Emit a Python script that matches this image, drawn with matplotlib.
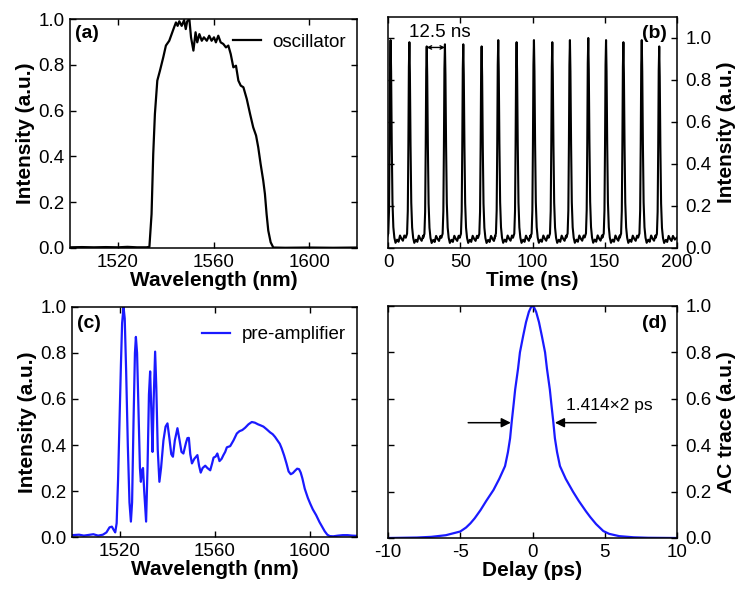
import numpy as np
import matplotlib
matplotlib.use("Agg")
import matplotlib.pyplot as plt
from matplotlib.ticker import FormatStrFormatter

plt.rcParams['font.family'] = ['Liberation Sans', 'DejaVu Sans']
plt.rcParams['axes.unicode_minus'] = False

# (a) oscillator spectrum
osc_wl = [1500, 1505, 1510, 1515, 1520, 1524, 1528, 1532, 1533.2, 1534.1, 1534.8, 1535.5,
          1536.5, 1537.6, 1539.0, 1540.1, 1541.5, 1542.5, 1543.5, 1544.3, 1545.0, 1545.7,
          1546.7, 1547.7, 1548.4, 1549.0, 1549.9, 1550.6, 1551.6, 1552.5, 1553.2, 1554.1,
          1555.1, 1556.0, 1557.2, 1558.2, 1559.2, 1560.2, 1561.0, 1562.0, 1563.0, 1564.1,
          1565.2, 1566.2, 1567.2, 1568.3, 1569.4, 1570.4, 1571.4, 1572.5, 1573.9, 1575.3,
          1576.6, 1577.8, 1578.7, 1579.7, 1580.8, 1581.5, 1582.2, 1582.9, 1583.9, 1585.0,
          1590, 1600, 1610, 1620]
osc_int = [0.003, 0.004, 0.003, 0.004, 0.003, 0.005, 0.003, 0.003, 0.005, 0.148, 0.41, 0.585,
           0.731, 0.774, 0.833, 0.884, 0.905, 0.934, 0.963, 0.985, 0.97, 0.99,
           0.97, 0.995, 0.956, 0.99, 1.0, 0.92, 0.862, 0.942, 0.898, 0.934,
           0.905, 0.92, 0.905, 0.927, 0.905, 0.92, 0.898, 0.927, 0.898, 0.891,
           0.876, 0.884, 0.847, 0.789, 0.796, 0.731, 0.709, 0.702, 0.651, 0.585,
           0.527, 0.491, 0.44, 0.367, 0.294, 0.236, 0.148, 0.076, 0.025, 0.002,
           0.001, 0.002, 0.001, 0.002]

# (b) pulse train
peak_t = [1.8, 14.8, 26.8, 39.4, 52.1, 64.8, 76.3, 89.0, 101.0, 113.7, 125.9, 138.6,
          150.9, 162.9, 175.6, 187.7]
peak_h = [0.99, 0.98, 0.96, 0.97, 0.97, 0.96, 0.99, 0.98, 0.99, 0.98, 0.99, 1.0,
          0.99, 0.98, 0.99, 0.96]
pulse_dt = [-2.5, -1.6, -1.1, -0.7, -0.35, 0.0, 0.35, 0.8, 1.3, 1.9, 2.6, 3.4, 4.5,
            5.5, 6.5, 7.5, 8.5, 9.5]
pulse_y = [0.05, 0.07, 0.18, 0.5, 0.88, 1.0, 0.85, 0.5, 0.22, 0.1, 0.05, 0.025, 0.04,
           0.03, 0.06, 0.045, 0.035, 0.06]
tail_t = [198.5, 200.0]
tail_y = [0.04, 0.05]

# (c) pre-amplifier spectrum
pre_wl = [1500, 1503, 1505, 1507, 1509, 1511, 1513, 1514.5, 1515.8, 1516.8, 1517.6, 1518.2,
          1518.8, 1519.4, 1520.0, 1520.6, 1521.1, 1521.7, 1522.2, 1522.8, 1523.5, 1524.2,
          1524.8, 1525.3, 1525.9, 1526.5, 1526.9, 1527.4, 1528.0, 1528.6, 1529.0, 1529.5,
          1529.9, 1530.4, 1531.2, 1531.8, 1532.4, 1532.9, 1533.4, 1533.9, 1534.4, 1535.0,
          1535.5, 1536.1, 1536.8, 1537.5, 1538.5, 1539.4, 1540.2, 1541.0, 1541.8, 1542.5,
          1543.3, 1544.4, 1545.3, 1546.1, 1546.9, 1548.0, 1548.6, 1549.2, 1549.8, 1550.5,
          1551.5, 1552.8, 1553.5, 1554.2, 1555.0, 1556.1, 1557.0, 1558.2, 1559.0, 1559.6,
          1560.5, 1561.2, 1562.1, 1563.0, 1563.7, 1564.5, 1565.2, 1566.6, 1568.0, 1569.4,
          1570.5, 1571.7, 1572.9, 1574.3, 1575.7, 1577.0, 1578.3, 1579.5, 1580.6, 1582.0,
          1583.4, 1584.5, 1585.5, 1586.5, 1587.5, 1588.3, 1589.3, 1590.3, 1591.2, 1592.1,
          1593.0, 1593.9, 1594.8, 1595.6, 1596.3, 1597.0, 1598.0, 1599.3, 1600.3, 1601.4,
          1602.8, 1604.2, 1605.3, 1606.4, 1607.5, 1608.5, 1610, 1612, 1614, 1616, 1618, 1620]
pre_int = [0.008, 0.01, 0.006, 0.009, 0.012, 0.006, 0.01, 0.02, 0.042, 0.045, 0.03, 0.02,
           0.06, 0.25, 0.5, 0.75, 0.93, 1.0, 0.95, 0.72, 0.4, 0.15,
           0.067, 0.15, 0.5, 0.8, 0.87, 0.8, 0.55, 0.3, 0.24, 0.29,
           0.30, 0.2, 0.067, 0.3, 0.62, 0.72, 0.55, 0.37, 0.6, 0.806,
           0.65, 0.38, 0.24, 0.3, 0.42, 0.48, 0.494, 0.43, 0.36, 0.349,
           0.42, 0.473, 0.42, 0.37, 0.363, 0.41, 0.43, 0.431, 0.36, 0.32,
           0.34, 0.356, 0.31, 0.28, 0.30, 0.31, 0.30, 0.29, 0.32, 0.345,
           0.35, 0.363, 0.33, 0.34, 0.355, 0.37, 0.39, 0.395, 0.42, 0.45,
           0.46, 0.465, 0.475, 0.49, 0.50, 0.497, 0.49, 0.485, 0.48, 0.468,
           0.455, 0.447, 0.435, 0.42, 0.405, 0.385, 0.355, 0.32, 0.285, 0.273,
           0.278, 0.288, 0.297, 0.295, 0.28, 0.255, 0.21, 0.17, 0.145, 0.12,
           0.095, 0.065, 0.045, 0.025, 0.01, 0.004, 0.003, 0.006, 0.008, 0.008, 0.006, 0.005]

# (d) autocorrelation trace
delay = [-10, -8, -7, -6, -5, -4.6, -4.3, -4.0, -3.6, -3.2, -2.7, -2.3, -1.9, -1.7, -1.55,
         -1.44, -1.3, -1.2, -1.0, -0.87, -0.65, -0.45, -0.25, -0.1, 0,
         0.1, 0.25, 0.45, 0.65, 0.87, 1.0, 1.2, 1.3, 1.44, 1.55, 1.7, 1.9, 2.3, 2.8,
         3.2, 3.7, 4.0, 4.4, 4.9, 5.3, 6.0, 7.0, 8.0, 10]
ac = [0.0, 0.002, 0.005, 0.012, 0.028, 0.045, 0.063, 0.085, 0.12, 0.16, 0.207, 0.255, 0.31,
      0.37, 0.43, 0.5, 0.58, 0.64, 0.73, 0.8, 0.87, 0.93, 0.975, 0.995, 1.0,
      0.995, 0.975, 0.93, 0.87, 0.8, 0.73, 0.64, 0.58, 0.5, 0.43, 0.37, 0.31, 0.255, 0.2,
      0.16, 0.115, 0.09, 0.06, 0.03, 0.018, 0.008, 0.003, 0.001, 0.0]

fig = plt.figure(figsize=(7.46, 5.99), dpi=100)
ax_a = fig.add_axes([70/746, 1-248/599, 287/746, 229/599])
ax_b = fig.add_axes([388/746, 1-248/599, 289/746, 231/599])
ax_c = fig.add_axes([72/746, 1-537/599, 285/746, 230/599])
ax_d = fig.add_axes([388/746, 1-538/599, 289/746, 232/599])

for ax in (ax_a, ax_b, ax_c, ax_d):
	ax.tick_params(direction='in', top=True, right=True, length=4, width=1, labelsize=13.5, pad=4)
	for s in ax.spines.values():
		s.set_linewidth(1.1)
	ax.yaxis.set_major_formatter(FormatStrFormatter('%.1f'))

labfont = dict(fontsize=15, fontweight='bold')

# panel (a)
ax_a.plot(osc_wl, osc_int, color='black', lw=1.6, label='oscillator')
ax_a.set_xlim(1500, 1620)
ax_a.set_ylim(0, 1.0)
ax_a.set_xticks([1520, 1560, 1600])
ax_a.set_yticks(np.arange(0, 1.01, 0.2))
ax_a.set_xlabel('Wavelength (nm)', labelpad=0, **labfont)
ax_a.set_ylabel('Intensity (a.u.)', labelpad=2, **labfont)
ax_a.text(0.018, 0.935, '(a)', transform=ax_a.transAxes, fontsize=14, fontweight='bold', va='center')
ax_a.legend(loc='upper right', bbox_to_anchor=(1.0, 0.985), frameon=False, fontsize=13.5,
            handlelength=1.5, handletextpad=0.6, borderaxespad=0.2)

# panel (b)
t_all, y_all = [], []
for t0, h in zip(peak_t, peak_h):
	t_all += [t0 + d for d in pulse_dt]
	y_all += [h * v for v in pulse_y]
t_all += tail_t
y_all += tail_y
ax_b.plot(t_all, y_all, color='black', lw=1.5)
ax_b.set_xlim(0, 200)
ax_b.set_ylim(0, 1.1)
ax_b.set_xticks([0, 50, 100, 150, 200])
ax_b.set_yticks(np.arange(0, 1.01, 0.2))
ax_b.tick_params(axis='y', labelleft=False, labelright=True, pad=6)
ax_b.yaxis.set_label_position('right')
ax_b.set_xlabel('Time (ns)', labelpad=0, **labfont)
ax_b.set_ylabel('Intensity (a.u.)', labelpad=4, **labfont)
ax_b.text(0.965, 0.93, '(b)', transform=ax_b.transAxes, fontsize=14, fontweight='bold',
          va='center', ha='right')
ax_b.annotate('', xy=(peak_t[2], 0.955), xytext=(peak_t[3], 0.955),
              arrowprops=dict(arrowstyle='<->', lw=1.0, color='black', mutation_scale=6,
                              shrinkA=0, shrinkB=0))
ax_b.text(36, 1.025, '12.5 ns', fontsize=13.5, ha='center', va='center')

# panel (c)
ax_c.plot(pre_wl, pre_int, color='#1a1aff', lw=1.6, label='pre-amplifier')
ax_c.set_xlim(1500, 1620)
ax_c.set_ylim(0, 1.0)
ax_c.set_xticks([1520, 1560, 1600])
ax_c.set_yticks(np.arange(0, 1.01, 0.2))
ax_c.set_xlabel('Wavelength (nm)', labelpad=0, **labfont)
ax_c.set_ylabel('Intensity (a.u.)', labelpad=2, **labfont)
ax_c.text(0.018, 0.93, '(c)', transform=ax_c.transAxes, fontsize=14, fontweight='bold', va='center')
ax_c.legend(loc='upper right', bbox_to_anchor=(1.0, 0.965), frameon=False, fontsize=13.5,
            handlelength=1.5, handletextpad=0.6, borderaxespad=0.2)

# panel (d)
ax_d.plot(delay, ac, color='#1a1aff', lw=1.6)
ax_d.set_xlim(-10, 10)
ax_d.set_ylim(0, 1.0)
ax_d.set_xticks([-10, -5, 0, 5, 10])
ax_d.set_yticks(np.arange(0, 1.01, 0.2))
ax_d.tick_params(axis='y', labelleft=False, labelright=True, pad=6)
ax_d.yaxis.set_label_position('right')
ax_d.set_xlabel('Delay (ps)', labelpad=0, **labfont)
ax_d.set_ylabel('AC trace (a.u.)', labelpad=4, **labfont)
ax_d.text(0.965, 0.925, '(d)', transform=ax_d.transAxes, fontsize=14, fontweight='bold',
          va='center', ha='right')
ax_d.annotate('', xy=(-1.5, 0.497), xytext=(-4.45, 0.497),
              arrowprops=dict(arrowstyle='-|>', lw=1.1, color='black', mutation_scale=14,
                              shrinkA=0, shrinkB=0))
ax_d.annotate('', xy=(1.55, 0.497), xytext=(4.4, 0.497),
              arrowprops=dict(arrowstyle='-|>', lw=1.1, color='black', mutation_scale=14,
                              shrinkA=0, shrinkB=0))
ax_d.text(2.35, 0.57, '1.414×2 ps', fontsize=12.5, ha='left', va='center')

plt.savefig('out.png', dpi=100)
